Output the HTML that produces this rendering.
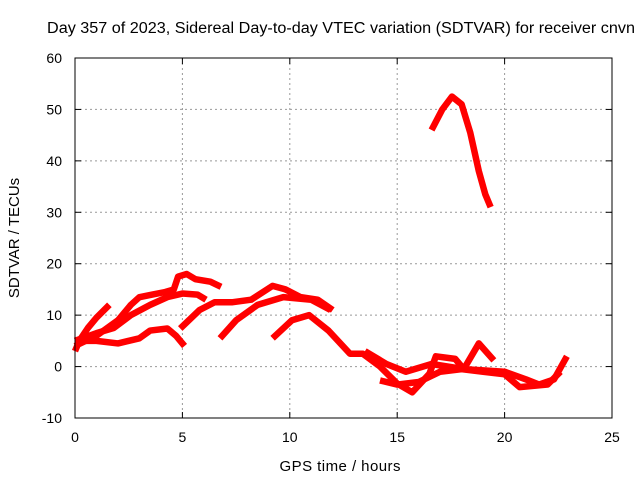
<!DOCTYPE html>
<html><head><meta charset="utf-8"><style>body{margin:0;background:#fff}svg{display:block;font-family:"Liberation Sans",sans-serif}</style></head>
<body>
<svg id="c" width="640" height="480">
<text x="47" y="33" font-size="15.5" textLength="588" lengthAdjust="spacingAndGlyphs">Day 357 of 2023, Sidereal Day-to-day VTEC variation (SDTVAR) for receiver cnvn</text>
<text x="340" y="471" text-anchor="middle" font-size="15" textLength="121">GPS time / hours</text>
<text transform="translate(19,238) rotate(-90)" text-anchor="middle" font-size="15">SDTVAR / TECUs</text>
<g id="grid"></g><g id="ser"></g>
<rect x="75" y="58" width="537" height="360" fill="none" stroke="#000" stroke-width="1"/>
</svg>
<script>
const xTicks=[0,5,10,15,20,25];
const yTicks=[-10,0,10,20,30,40,50,60];
const s1=[[0,3],[0.2,5],[0.6,7.5],[1,9.5],[1.6,12]];
const s2=[[0,4],[1,6],[2,9],[2.6,12],[3,13.5],[3.6,14],[4.2,14.5],[4.6,15],[4.8,17.5],[5.2,18],[5.6,17],[6.3,16.5],[6.8,15.5]];
const s3=[[0,5],[1,6.5],[1.8,7.5],[2.6,10],[3.5,12],[4.3,13.5],[5,14.2],[5.7,14],[6.1,13]];
const s4=[[4.9,7.4],[5.8,11],[6.5,12.5],[7.3,12.5],[8.2,13],[9.2,15.7],[9.8,15],[10.5,13.5],[11.3,13],[12,11]];
const s5=[[6.75,5.5],[7.5,9],[8.5,12],[9.7,13.5],[11,13],[11.9,11]];
const s6=[[0,5],[1,5],[2,4.5],[3,5.5],[3.5,7],[4.3,7.4],[4.7,6],[5.1,4]];
const s7=[[9.2,5.5],[10.1,9],[10.9,10],[11.8,7],[12.8,2.5],[13.4,2.5],[14.2,0],[15,-3.3],[15.7,-5],[16.5,-1.4],[16.8,2],[17.7,1.5],[18.1,-0.5],[18.8,4.5],[19.5,1.2]];
const s8=[[13.5,3],[14.5,0.5],[15.4,-1],[16.6,0.5],[18.1,-0.5],[20,-1],[21,-2.5],[21.6,-3.5],[22.3,-2.5],[22.9,2]];
const s9=[[14.2,-2.7],[15,-3.5],[16,-3],[17,-1],[18,-0.5],[19,-1],[20,-1.5],[20.7,-4],[22,-3.5],[22.6,-1]];
const s10=[[16.6,46],[17.1,50],[17.55,52.5],[18,51],[18.4,45.5],[18.8,38],[19.1,33.5],[19.35,31]];
const series=[s1,s2,s3,s4,s5,s6,s7,s8,s9,s10];
const X=h=>75+h*537/25, Y=v=>418-(v+10)*360/70;
const NS='http://www.w3.org/2000/svg';
const g=document.getElementById('grid'), sg=document.getElementById('ser');
function mk(t,a,p){const e=document.createElementNS(NS,t);for(const k in a)e.setAttribute(k,a[k]);p.appendChild(e);return e;}
xTicks.forEach(t=>{const x=X(t);
 if(t>0&&t<25){const l=mk('line',{x1:x,x2:x,y1:58,y2:418,stroke:'#999','stroke-dasharray':'2,3'},g);
 
 }
 mk('line',{x1:x,x2:x,y1:418,y2:412,stroke:'#000'},g);mk('line',{x1:x,x2:x,y1:58,y2:64,stroke:'#000'},g);
 const tx=mk('text',{x:x,y:442,'text-anchor':'middle','font-size':14},g);tx.textContent=t;
 
 });
yTicks.forEach(t=>{const y=Y(t);
 if(t>-10&&t<60){const l=mk('line',{x1:75,x2:612,y1:y,y2:y,stroke:'#999','stroke-dasharray':'2,3'},g);
 
 }
 mk('line',{x1:75,x2:81,y1:y,y2:y,stroke:'#000'},g);mk('line',{x1:606,x2:612,y1:y,y2:y,stroke:'#000'},g);
 const tx=mk('text',{x:62,y:y+5,'text-anchor':'end','font-size':14},g);tx.textContent=t;
 
 });
series.forEach((s,i)=>{const p=mk('polyline',{points:s.map(d=>X(d[0])+','+Y(d[1])).join(' '),fill:'none',stroke:'#f00','stroke-width':6.5,'stroke-linejoin':'round'},sg);
 
 });
</script>
</body></html>
